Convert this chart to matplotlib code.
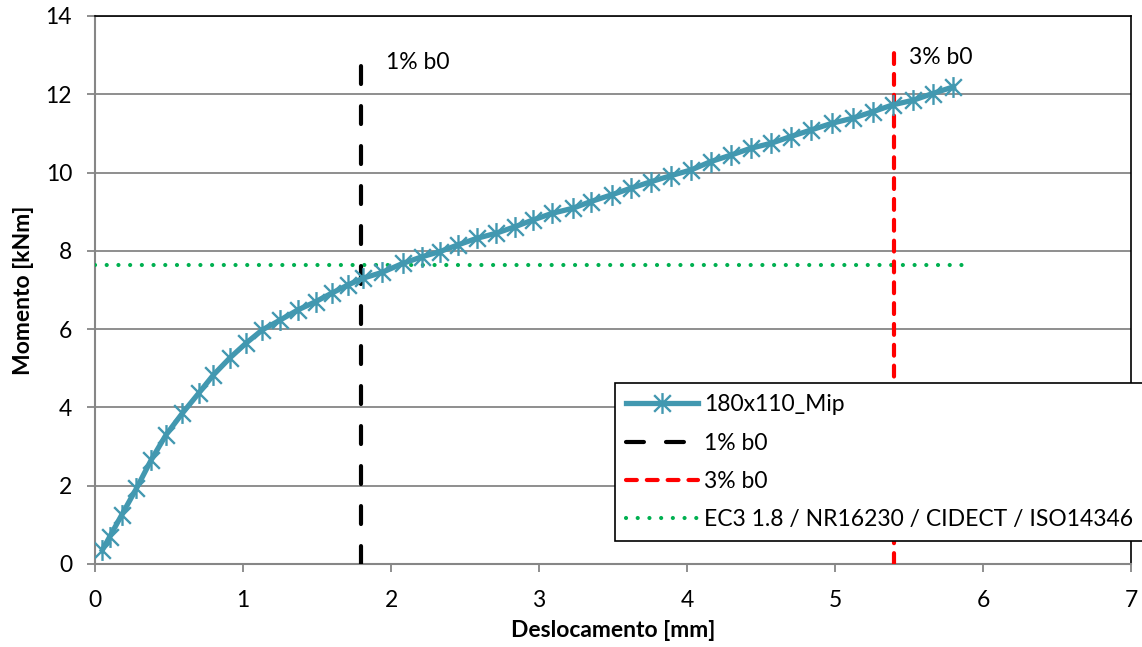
import matplotlib
matplotlib.use("Agg")
import matplotlib.pyplot as plt
from matplotlib.path import Path

# ---- data ----
desloc = [0.05, 0.10, 0.18, 0.28, 0.38, 0.48, 0.59, 0.70, 0.80, 0.91, 1.02, 1.13,
          1.25, 1.37, 1.49, 1.60, 1.71, 1.81, 1.94, 2.08, 2.21, 2.33, 2.45, 2.58,
          2.71, 2.84, 2.96, 3.09, 3.23, 3.35, 3.49, 3.62, 3.76, 3.89, 4.03, 4.16,
          4.30, 4.43, 4.57, 4.70, 4.84, 4.98, 5.12, 5.26, 5.39, 5.53, 5.66, 5.80]
momento = [0.36, 0.70, 1.25, 1.93, 2.66, 3.30, 3.85, 4.36, 4.83, 5.26, 5.64, 5.98,
           6.23, 6.49, 6.70, 6.92, 7.13, 7.30, 7.45, 7.68, 7.85, 7.98, 8.15, 8.32,
           8.45, 8.62, 8.79, 8.96, 9.09, 9.26, 9.43, 9.60, 9.77, 9.92, 10.07, 10.28,
           10.45, 10.62, 10.75, 10.92, 11.09, 11.26, 11.39, 11.56, 11.73, 11.85, 12.02, 12.19]
b1_x = [1.8, 1.8]
b1_y = [0.0, 12.9]
b3_x = [5.4, 5.4]
b3_y = [0.0, 13.05]
ec3_x = [0.0, 5.93]
ec3_y = [7.65, 7.65]
series_labels = ["180x110_Mip", "1% b0", "3% b0", "EC3 1.8 / NR16230 / CIDECT / ISO14346"]
xticks = [0, 1, 2, 3, 4, 5, 6, 7]
yticks = [0, 2, 4, 6, 8, 10, 12, 14]

plt.rcParams['font.family'] = ['Lato', 'DejaVu Sans']
FS = 16.5

fig = plt.figure(figsize=(11.42, 6.47), dpi=100)
ax = fig.add_axes([95/1142, 83/647, (1131-95)/1142, (564-16)/647])

gray = "#868686"
ax.set_xlim(0, 7)
ax.set_ylim(0, 14)
ax.set_xticks(xticks)
ax.set_yticks(yticks)
ax.yaxis.grid(True, color=gray, linewidth=1.3)
ax.set_axisbelow(True)
for s in ["left", "bottom"]:
    ax.spines[s].set_color(gray)
    ax.spines[s].set_linewidth(1.5)
for s in ["top", "right"]:
    ax.spines[s].set_color("black")
    ax.spines[s].set_linewidth(1.2)
ax.tick_params(axis="both", direction="out", length=5.5, width=1.3, color=gray,
               labelsize=FS, labelcolor="black")
ax.tick_params(axis="x", pad=13)
ax.tick_params(axis="y", pad=11)

star = Path([(-1, -1), (1, 1), (-1, 1), (1, -1), (0, -1.25), (0, 1.25)],
            [Path.MOVETO, Path.LINETO, Path.MOVETO, Path.LINETO, Path.MOVETO, Path.LINETO])

ax.plot(desloc, momento, color="#4298B0", linewidth=3.8, marker=star,
        markersize=15, markeredgewidth=1.7, markeredgecolor="#4298B0",
        label=series_labels[0], zorder=5)
ax.plot(b1_x, b1_y, color="black", linewidth=3, linestyle=(0, (4.3, 5.3)),
        dash_capstyle="round", label=series_labels[1], zorder=4)
ax.plot(b3_x, b3_y, color="#FF0000", linewidth=3, linestyle=(0, (2.6, 2.4)),
        dash_capstyle="round", label=series_labels[2], zorder=4)
ax.plot(ec3_x, ec3_y, color="#00B050", linewidth=3, linestyle=(0, (0.01, 2.8)),
        dash_capstyle="round", label=series_labels[3], zorder=3)

ax.text(1.965, 12.8, "1% b0", fontsize=FS, va="center", ha="left")
ax.text(5.50, 12.93, "3% b0", fontsize=FS, va="center", ha="left")

ax.set_xlabel("Deslocamento [mm]", fontsize=FS, fontweight="bold", labelpad=7)
ax.set_ylabel("Momento [kNm]", fontsize=FS, fontweight="bold", labelpad=8)

leg = ax.legend(loc="upper left", bbox_to_anchor=(615/1142, 1 - 383/647),
                bbox_transform=fig.transFigure, fontsize=FS, frameon=True,
                fancybox=False, edgecolor="black", framealpha=1,
                handlelength=3.1, labelspacing=0.75, borderpad=0.5,
                handletextpad=0.3, borderaxespad=0)
leg.get_frame().set_linewidth(1.2)
leg.set_zorder(10)

fig.savefig("out.png", dpi=100)
